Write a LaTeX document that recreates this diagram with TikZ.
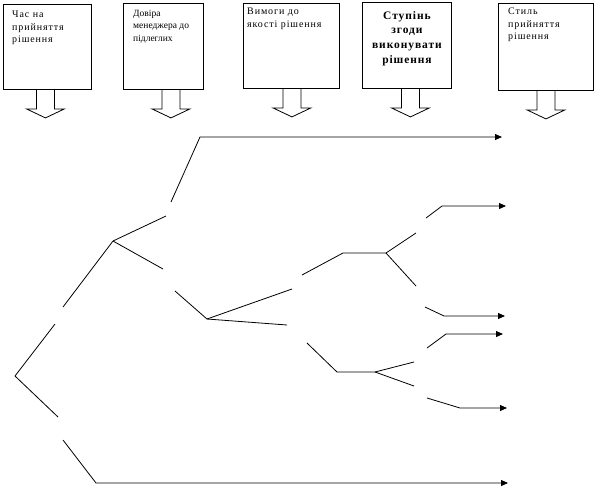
\documentclass[tikz,border=0pt]{standalone}
\usepackage{fontspec}
\setmainfont{Liberation Serif}
\usetikzlibrary{arrows.meta,positioning}
\tikzset{
  every picture/.style={x=1pt,y=-1pt,line join=miter,>={Triangle[length=7pt,width=6pt]}},
  box/.style={draw,line width=0.9pt,inner sep=0pt,anchor=north west},
  boxtext/.style={inner sep=0pt,align=left,font=\fontsize{10}{12.5}\selectfont\addfontfeature{LetterSpace=9}},
  boldtext/.style={inner sep=0pt,align=center,font=\fontsize{11.5}{14.7}\selectfont\bfseries\addfontfeature{LetterSpace=8}},
  branch/.style={line width=0.8pt},
  blockdown/.pic={\draw[line width=0.8pt] (-9,0) -- (-9,19) -- (-19,19) -- (0,28) -- (19,19) -- (9,19) -- (9,0);},
}
\begin{document}
\begin{tikzpicture}
\useasboundingbox (0,0) rectangle (595,488);
% factor boxes
\node[box,minimum width=88pt,minimum height=85pt] (b1) at (3,4) {};
\node[box,minimum width=80pt,minimum height=86pt] (b2) at (123,3) {};
\node[box,minimum width=96pt,minimum height=85pt] (b3) at (243,3) {};
\node[box,minimum width=89pt,minimum height=86pt] (b4) at (362,2) {};
\node[box,minimum width=95pt,minimum height=87pt] (b5) at (498,3) {};
\node[boxtext,below right=7pt and 9pt of b1.north west] (t1) {Час на\\прийняття\\рішення};
\node[boxtext,font=\fontsize{9.5}{12.5}\selectfont,below right=7pt and 10pt of b2.north west] (t2) {Довіра\\менеджера до\\підлеглих};
\node[boxtext,below right=5pt and 4pt of b3.north west] (t3) {Вимоги до\\якості рішення};
\node[boldtext,below=9pt of b4.north] (t4) {Ступінь\\згоди\\виконувати\\рішення};
\node[boxtext,below right=5pt and 10pt of b5.north west] (t5) {Стиль\\прийняття\\рішення};
\pic at ([xshift=-2pt]b1.south) {blockdown};
\pic at ([xshift=7.5pt]b2.south) {blockdown};
\pic at ([xshift=0.5pt]b3.south) {blockdown};
\pic at ([xshift=3.5pt]b4.south) {blockdown};
\pic at (b5.south) {blockdown};
% decision points
\coordinate (root) at (15,376);
\coordinate (s1) at (113,241);
\coordinate (s2) at (207,319);
\coordinate (s3) at (386,253);
\coordinate (s4) at (375,372);
% gaps left for the labels
\coordinate (g1a) at (55,324);  \coordinate (g1b) at (63,307);
\coordinate (g2a) at (58,417);  \coordinate (g2b) at (63,440);
\coordinate (g3a) at (166,216); \coordinate (g3b) at (171,202);
\coordinate (g4a) at (163,269); \coordinate (g4b) at (175,291);
\coordinate (g5a) at (292,289); \coordinate (g5b) at (302,275);
\coordinate (g6a) at (287,325); \coordinate (g6b) at (307,343);
\coordinate (g7a) at (416,233); \coordinate (g7b) at (426,218);
\coordinate (g8a) at (416,286); \coordinate (g8b) at (425,307);
\coordinate (g9a) at (414,362); \coordinate (g9b) at (427,348);
\coordinate (g10a) at (414,386); \coordinate (g10b) at (427,398);
% bends and ends
\coordinate (k1) at (96,483);  \coordinate (e1) at (508,483);
\coordinate (k2) at (200,137); \coordinate (e2) at (502,137);
\coordinate (k3) at (343,253);
\coordinate (k4) at (337,372);
\coordinate (k7) at (442,206); \coordinate (e7) at (506,206);
\coordinate (k8) at (444,316); \coordinate (e8) at (505,316);
\coordinate (k9) at (446,334); \coordinate (e9) at (503,334);
\coordinate (k10) at (460,408); \coordinate (e10) at (507,408);
% tree
\draw[branch] (root) -- (g1a) (g1b) -- (s1);
\draw[branch] (root) -- (g2a);
\draw[branch,->] (g2b) -- (k1) -- (e1);
\draw[branch] (s1) -- (g3a);
\draw[branch,->] (g3b) -- (k2) -- (e2);
\draw[branch] (s1) -- (g4a) (g4b) -- (s2);
\draw[branch] (s2) -- (g5a) (g5b) -- (k3) -- (s3);
\draw[branch] (s2) -- (g6a) (g6b) -- (k4) -- (s4);
\foreach \i/\s in {7/s3,8/s3,9/s4,10/s4}{
  \draw[branch] (\s) -- (g\i a);
  \draw[branch,->] (g\i b) -- (k\i) -- (e\i);
}
\end{tikzpicture}
\end{document}
